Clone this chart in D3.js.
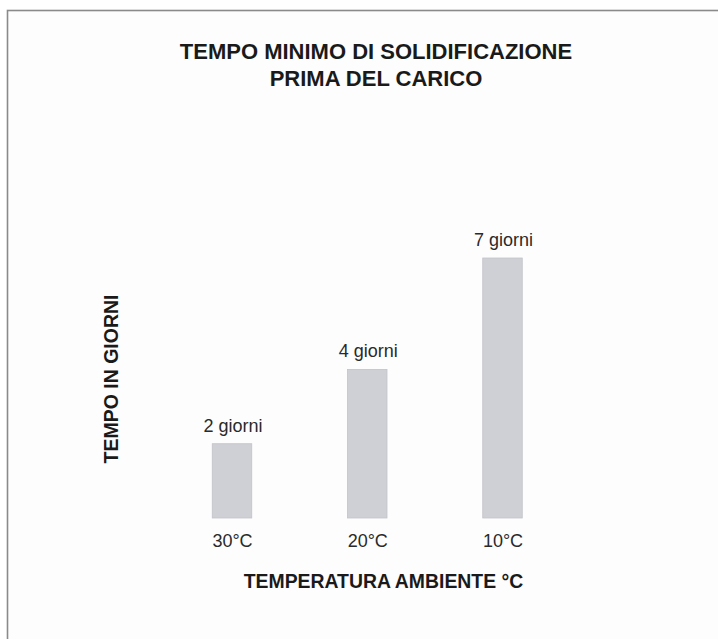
<!DOCTYPE html>
<html><head><meta charset="utf-8">
<script src="https://cdn.jsdelivr.net/npm/d3@7"></script>
<style>html,body{margin:0;padding:0;background:#fff;}svg{display:block;}</style>
</head><body>
<script>
const categories = ["30°C", "20°C", "10°C"];
const values = [2, 4, 7];
const valueLabels = ["2 giorni", "4 giorni", "7 giorni"];
const titleLines = ["TEMPO MINIMO DI SOLIDIFICAZIONE", "PRIMA DEL CARICO"];
const xTitle = "TEMPERATURA AMBIENTE °C";
const yTitle = "TEMPO IN GIORNI";

const W = 718, H = 639;
const font = "'Liberation Sans', Arial, Helvetica, sans-serif";
const svg = d3.select("body").append("svg").attr("width", W).attr("height", H);
svg.append("rect").attr("width", W).attr("height", H).attr("fill", "#fff");

// frame
svg.append("rect").attr("x", 7.5).attr("y", 10.5).attr("width", W + 20).attr("height", H + 20)
  .attr("fill", "#fdfdfd").attr("stroke", "#8a8a8a").attr("stroke-width", 1.6);

const x = d3.scalePoint().domain(categories).range([232, 502.5]);
const y = d3.scaleLinear().domain([0, 7]).range([518, 258]);
const bw = 39.5;

// title
svg.append("g").selectAll("text").data(titleLines).join("text")
  .attr("x", 376).attr("y", (d, i) => 59 + i * 27)
  .attr("text-anchor", "middle").attr("font-family", font).attr("font-weight", "bold")
  .attr("font-size", 22).attr("fill", "#1a1a1a").text(d => d);

// bars
svg.append("g").selectAll("rect").data(values).join("rect")
  .attr("x", (d, i) => x(categories[i]) - bw / 2)
  .attr("y", d => y(d))
  .attr("width", bw)
  .attr("height", d => y(0) - y(d))
  .attr("fill", "#cfd0d5").attr("stroke", "#c2c3c8").attr("stroke-width", 0.8);

// value labels
svg.append("g").selectAll("text").data(values).join("text")
  .attr("x", (d, i) => x(categories[i]) + 1)
  .attr("y", d => y(d) - 12)
  .attr("text-anchor", "middle").attr("font-family", font)
  .attr("font-size", 18).attr("fill", "#2a2a2a").text((d, i) => valueLabels[i]);

// x axis labels
const xAxis = d3.axisBottom(x).tickSize(0).tickPadding(0);
const gx = svg.append("g").attr("transform", "translate(0,533)").call(xAxis);
gx.select(".domain").remove();
gx.selectAll("text").attr("font-family", font).attr("font-size", 18).attr("fill", "#2a2a2a")
  .attr("dy", "0.75em");

// x title
svg.append("text").attr("x", 383.5).attr("y", 588)
  .attr("text-anchor", "middle").attr("font-family", font).attr("font-weight", "bold")
  .attr("font-size", 19.4).attr("fill", "#1a1a1a").text(xTitle);

// y title
svg.append("text").attr("transform", "translate(118,379) rotate(-90)")
  .attr("text-anchor", "middle").attr("font-family", font).attr("font-weight", "bold")
  .attr("font-size", 19.5).attr("fill", "#1a1a1a").text(yTitle);
</script>
</body></html>
